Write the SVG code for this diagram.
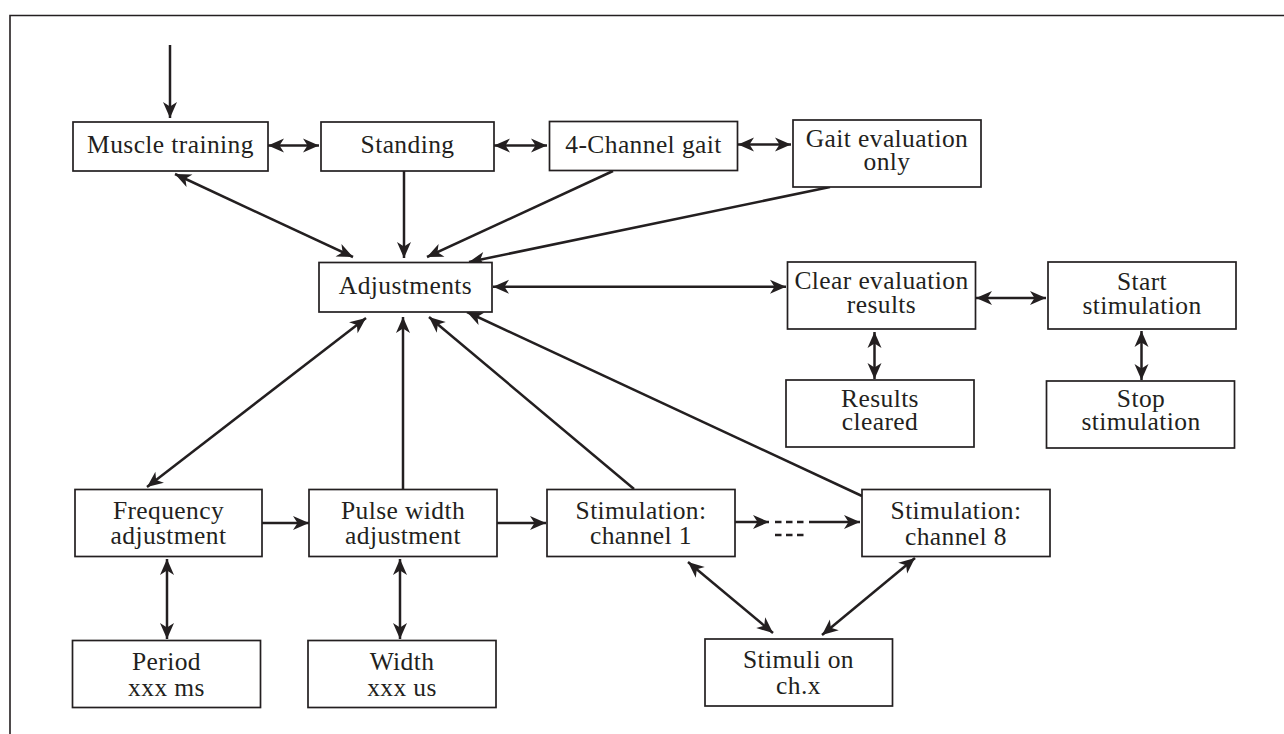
<svg xmlns="http://www.w3.org/2000/svg" width="1284" height="734" viewBox="0 0 1284 734">
<defs>
<marker id="ah" markerUnits="userSpaceOnUse" markerWidth="40" markerHeight="40" refX="0" refY="0" orient="auto-start-reverse" overflow="visible" viewBox="-20 -20 40 40">
<path d="M0,0 L-16,-7 L-11.5,0 L-16,7 Z" fill="#231f20"/>
</marker>
<style>
.box{fill:#fff;stroke:#231f20;stroke-width:1.7}
.t{font-family:"Liberation Serif","Times New Roman",serif;font-size:25.5px;letter-spacing:0.4px;fill:#231f20;text-anchor:middle}
.c{stroke:#231f20;stroke-width:2.5;fill:none}
.a{marker-end:url(#ah)}
.d{marker-start:url(#ah);marker-end:url(#ah)}
.frame{stroke:#231f20;stroke-width:1.6;fill:none}
</style>
</defs>
<rect width="1284" height="734" fill="#fff"/>
<path class="frame" d="M10,734 L10,15.5 L1284,15.5"/>

<g id="connectors">
<line class="c a" x1="170" y1="45" x2="170" y2="118"/>
<line class="c d" x1="268" y1="145.5" x2="319" y2="145.5"/>
<line class="c d" x1="494" y1="145.5" x2="547" y2="145.5"/>
<line class="c d" x1="738" y1="144.5" x2="791" y2="144.5"/>
<line class="c d" x1="175" y1="174" x2="353" y2="257"/>
<line class="c a" x1="404" y1="171" x2="404" y2="258"/>
<line class="c a" x1="613" y1="171" x2="427" y2="257"/>
<line class="c a" x1="830" y1="187" x2="469" y2="262"/>
<line class="c d" x1="493" y1="286.7" x2="786" y2="286.7"/>
<line class="c d" x1="976" y1="298" x2="1046" y2="298"/>
<line class="c d" x1="874.5" y1="332" x2="874.5" y2="379"/>
<line class="c d" x1="1141.5" y1="331" x2="1141.5" y2="380"/>
<line class="c d" x1="147" y1="487" x2="366" y2="318"/>
<line class="c a" x1="403" y1="489" x2="403" y2="317"/>
<line class="c a" x1="634" y1="489" x2="429" y2="317"/>
<line class="c a" x1="862" y1="496" x2="467" y2="312"/>
<line class="c a" x1="262" y1="523" x2="309" y2="523"/>
<line class="c a" x1="497" y1="523" x2="546" y2="523"/>
<line class="c a" x1="735" y1="522" x2="769" y2="522"/>
<line class="c" x1="775" y1="522" x2="804" y2="522" stroke-dasharray="6.5,4.5"/>
<line class="c" x1="775" y1="535" x2="804" y2="535" stroke-dasharray="6.5,4.5"/>
<line class="c a" x1="809" y1="522" x2="860" y2="522"/>
<line class="c d" x1="167" y1="559" x2="167" y2="639"/>
<line class="c d" x1="400" y1="559" x2="400" y2="639"/>
<line class="c d" x1="688" y1="562" x2="773" y2="633"/>
<line class="c d" x1="915" y1="558" x2="822" y2="635"/>
</g>

<g id="muscle-training"><rect class="box" x="73" y="122" width="195" height="49"/><text class="t" x="170.5" y="153">Muscle training</text></g>
<g id="standing"><rect class="box" x="321" y="122" width="173" height="49"/><text class="t" x="407.5" y="153">Standing</text></g>
<g id="four-channel-gait"><rect class="box" x="549.5" y="121.5" width="188" height="49"/><text class="t" x="643.5" y="152.5">4-Channel gait</text></g>
<g id="gait-evaluation"><rect class="box" x="793" y="120" width="188" height="67"/><text class="t" x="887" y="147">Gait evaluation</text><text class="t" x="887" y="170">only</text></g>
<g id="adjustments"><rect class="box" x="319" y="262.5" width="173" height="49.5"/><text class="t" x="405.5" y="294">Adjustments</text></g>
<g id="clear-evaluation"><rect class="box" x="787.5" y="262" width="188" height="67"/><text class="t" x="881.5" y="289">Clear evaluation</text><text class="t" x="881.5" y="313">results</text></g>
<g id="start-stimulation"><rect class="box" x="1048" y="262" width="188" height="67"/><text class="t" x="1142" y="290">Start</text><text class="t" x="1142" y="314">stimulation</text></g>
<g id="results-cleared"><rect class="box" x="786" y="380" width="188" height="67"/><text class="t" x="880" y="407">Results</text><text class="t" x="880" y="430">cleared</text></g>
<g id="stop-stimulation"><rect class="box" x="1046.5" y="381" width="188" height="67"/><text class="t" x="1141" y="407">Stop</text><text class="t" x="1141" y="430">stimulation</text></g>
<g id="frequency-adjustment"><rect class="box" x="75" y="489.5" width="187" height="67"/><text class="t" x="168.5" y="519">Frequency</text><text class="t" x="168.5" y="544">adjustment</text></g>
<g id="pulse-width-adjustment"><rect class="box" x="309" y="489.5" width="188" height="67"/><text class="t" x="403" y="519">Pulse width</text><text class="t" x="403" y="544">adjustment</text></g>
<g id="stimulation-channel-1"><rect class="box" x="547" y="489.5" width="188" height="67"/><text class="t" x="641" y="519">Stimulation:</text><text class="t" x="641" y="544">channel 1</text></g>
<g id="stimulation-channel-8"><rect class="box" x="862" y="489.5" width="188" height="67"/><text class="t" x="956" y="519">Stimulation:</text><text class="t" x="956" y="545">channel 8</text></g>
<g id="period"><rect class="box" x="72.5" y="640.5" width="188" height="67"/><text class="t" x="166.5" y="670">Period</text><text class="t" x="166.5" y="696">xxx ms</text></g>
<g id="width"><rect class="box" x="308" y="640.5" width="188" height="67"/><text class="t" x="402" y="670">Width</text><text class="t" x="402" y="696">xxx us</text></g>
<g id="stimuli-on-chx"><rect class="box" x="705" y="639" width="187.5" height="67"/><text class="t" x="798.5" y="668">Stimuli on</text><text class="t" x="798.5" y="694">ch.x</text></g>
</svg>
